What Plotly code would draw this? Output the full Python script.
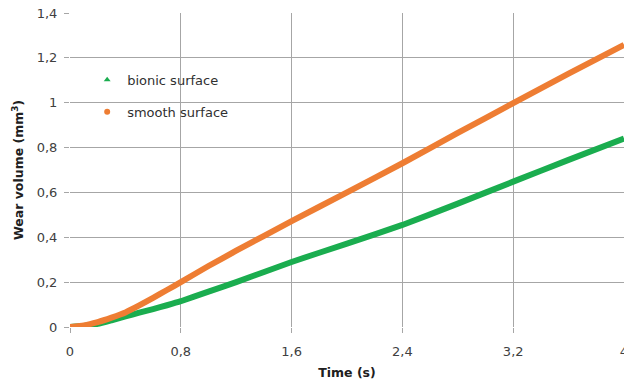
"""
Wear volume vs time: bionic surface vs smooth surface
"""
import plotly.graph_objects as go

# Dados
tempo = [0, 0.1, 0.2, 0.3, 0.4, 0.5, 0.6, 0.7, 0.8, 1.0, 1.2, 1.6, 2.0, 2.4, 2.8, 3.2, 3.6, 4.0]
bionic = [0, 0.004, 0.014, 0.03, 0.047, 0.064, 0.08, 0.097, 0.115, 0.158, 0.2, 0.29, 0.372, 0.455, 0.55, 0.648, 0.745, 0.84]
smooth = [0, 0.007, 0.022, 0.042, 0.065, 0.096, 0.13, 0.165, 0.2, 0.272, 0.34, 0.472, 0.6, 0.73, 0.865, 0.998, 1.13, 1.258]

x_ticks = [0, 0.8, 1.6, 2.4, 3.2, 4]
x_textos = ["0", "0,8", "1,6", "2,4", "3,2", "4"]
y_ticks = [0, 0.2, 0.4, 0.6, 0.8, 1, 1.2, 1.4]
y_textos = ["0", "0,2", "0,4", "0,6", "0,8", "1", "1,2", "1,4"]

VERDE = "#1aad4f"
LARANJA = "#ee7d33"
GRADE = "#a6a6a6"

fig = go.Figure()

# Curvas grossas (sem legenda)
fig.add_trace(go.Scatter(
    x=tempo, y=bionic, mode="lines", showlegend=False,
    line=dict(color=VERDE, width=6, shape="spline", smoothing=0.4)
))
fig.add_trace(go.Scatter(
    x=tempo, y=smooth, mode="lines", showlegend=False,
    line=dict(color=LARANJA, width=6, shape="spline", smoothing=0.4)
))

# Entradas de legenda com marcadores
fig.add_trace(go.Scatter(
    x=[None], y=[None], mode="markers", name="bionic surface", legendgroup="b",
    marker=dict(symbol="triangle-up", color=VERDE, size=6)
))
fig.add_trace(go.Scatter(
    x=[None], y=[None], mode="markers", name="smooth surface", legendgroup="s",
    marker=dict(symbol="circle", color=LARANJA, size=6)
))

fig.update_layout(
    width=624, height=383,
    margin=dict(l=70, r=0, t=13, b=56, autoexpand=False),
    paper_bgcolor="white",
    plot_bgcolor="white",
    font=dict(family="DejaVu Sans", size=13, color="#404040"),
    legend=dict(
        x=0.031, y=0.835, xanchor="left", yanchor="top",
        bgcolor="rgba(0,0,0,0)",
        font=dict(size=13, color="#303030"),
        tracegroupgap=12, itemwidth=30,
    ),
    xaxis=dict(
        range=[0, 4], tickmode="array", tickvals=x_ticks, ticktext=x_textos,
        showgrid=True, gridcolor=GRADE, gridwidth=1,
        zeroline=False, showline=False, automargin=False,
        ticks="outside", ticklen=5, tickcolor=GRADE,
        ticklabelstandoff=7, ticklabeloverflow="allow",
        title=dict(text="<b>Time (s)</b>", font=dict(size=12.5, color="#202020"), standoff=10),
    ),
    yaxis=dict(
        range=[0, 1.4], tickmode="array", tickvals=y_ticks, ticktext=y_textos,
        showgrid=True, gridcolor=GRADE, gridwidth=1,
        zeroline=False, showline=False, automargin=False,
        ticks="outside", ticklen=5, tickcolor=GRADE,
        ticklabelstandoff=4,
        title=dict(text="<b>Wear volume (mm<sup>3</sup>)</b>", font=dict(size=12.5, color="#202020"), standoff=10),
    ),
)

# Remove a margem padrão da página para o gráfico ocupar a janela inteira
fig.write_html(
    "out.html",
    config={"displayModeBar": False},
    post_script="document.body.style.margin='0';",
)
